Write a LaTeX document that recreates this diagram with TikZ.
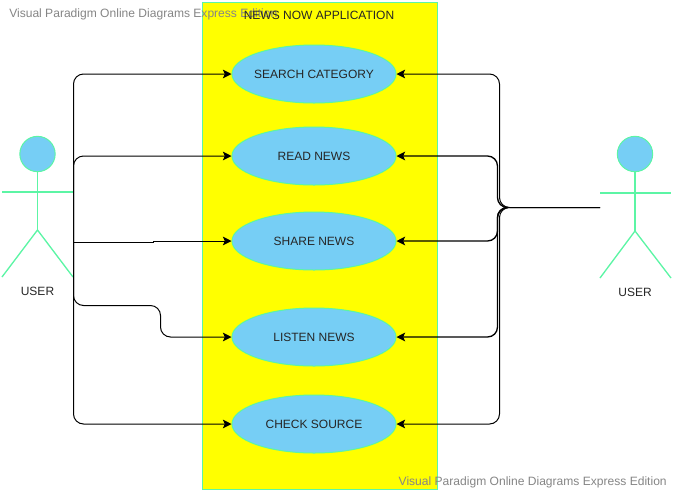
\documentclass[tikz,border=0pt]{standalone}
\usepackage{fontspec}
\setmainfont{Liberation Sans}
\usetikzlibrary{arrows.meta,shapes.geometric}
\definecolor{skyfill}{HTML}{76CEF5}
\definecolor{greenline}{HTML}{5CF5A5}
\definecolor{marktext}{HTML}{858585}
\definecolor{appyellow}{HTML}{FFFF00}
\tikzset{
	usecase/.style={ellipse, draw=greenline, fill=skyfill, line width=0.75pt, minimum width=123pt, minimum height=43.5pt, inner sep=0pt, font=\fontsize{9}{11}\selectfont, text=black!85},
	actorline/.style={draw=greenline, line width=1pt},
	actorhead/.style={circle, draw=greenline, fill=skyfill, line width=0.75pt, minimum size=26.5pt, inner sep=0pt},
	actorname/.style={font=\fontsize{9}{11}\selectfont, text=black!85},
	watermark/.style={font=\fontsize{9.05}{11}\selectfont, text=marktext, inner sep=0pt},
	link/.style={-{Stealth[length=6.5pt,width=6.5pt,inset=1.5pt]}, line width=0.75pt, rounded corners=7.5pt},
	doublelink/.style={link, line width=1pt}
}
\begin{document}
\begin{tikzpicture}[x=0.75pt, y=-0.75pt]

	\useasboundingbox (0,0) rectangle (675,494);

	\node[draw=greenline, fill=appyellow, line width=0.75pt, minimum width=176.25pt, minimum height=365.25pt, inner sep=0pt] (app) at (319.5,245.5) {};
	\node[watermark, anchor=west] (markA) at (9,14) {Visual Paradigm Online Diagrams Express Edition};
	\node[actorname] (apptitle) at (319,15.5) {NEWS NOW APPLICATION};
	\node[watermark, anchor=east] (markB) at (667,482.5) {Visual Paradigm Online Diagrams Express Edition};

	\node[usecase] (search) at (314,74) {\makebox[0pt]{SEARCH CATEGORY}};
	\node[usecase] (read) at (314,156) {READ NEWS};
	\node[usecase] (share) at (314,241) {SHARE NEWS};
	\node[usecase] (listen) at (314,337) {LISTEN NEWS};
	\node[usecase] (check) at (314,424) {CHECK SOURCE};

	% left actor
	\node[actorhead] (headL) at (37.5,154) {};
	\coordinate (hipL) at (37.5,230);
	\coordinate (armLa) at (2,192);
	\coordinate (armLb) at (73,192);
	\coordinate (footLa) at (2,277);
	\coordinate (footLb) at (73,277);
	\draw[actorline] (headL) -- (hipL);
	\draw[actorline] (armLa) -- (armLb);
	\draw[actorline] (footLa) -- (hipL) -- (footLb);
	\node[actorname] (nameL) at (37.5,291) {USER};

	% right actor
	\node[actorhead] (headR) at (635,154) {};
	\coordinate (hipR) at (635,231);
	\coordinate (armRa) at (600,193);
	\coordinate (armRb) at (671,193);
	\coordinate (footRa) at (600,278);
	\coordinate (footRb) at (671,278);
	\draw[actorline] (headR) -- (hipR);
	\draw[actorline] (armRa) -- (armRb);
	\draw[actorline] (footRa) -- (hipR) -- (footRb);
	\node[actorname] (nameR) at (635,292) {USER};

	\coordinate (portL) at (73.5,242);
	\coordinate (portR) at (600,207.5);
	\coordinate (stepA) at (153,242);
	\coordinate (stepB) at (153,241);
	\coordinate (stepC) at (160.5,305.5);
	\coordinate (busA) at (499.5,207.5);
	\coordinate (busB) at (497.5,207.5);
	\coordinate (joinR) at (507,207.5);

	\draw[link] (portL) |- (search.west);
	\draw[link] (portL) |- (read.west);
	\draw[link, rounded corners=0pt] (portL) -- (stepA) -- (stepB) -- (share.west);
	\draw[link] (portL) |- (stepC) |- (listen.west);
	\draw[link] (portL) |- (check.west);

	\draw[link] (portR) -- (busA) |- (search.east);
	\draw[doublelink] (joinR) -- (busB) |- (read.east);
	\draw[doublelink] (joinR) -- (busB) |- (share.east);
	\draw[doublelink] (joinR) -- (busB) |- (listen.east);
	\draw[link] (portR) -- (busA) |- (check.east);

\end{tikzpicture}
\end{document}
